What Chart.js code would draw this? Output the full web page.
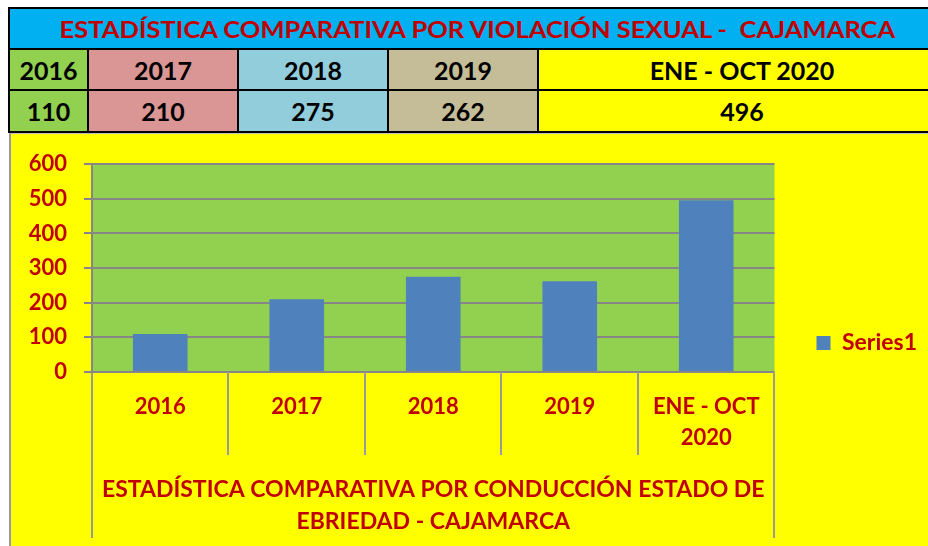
<!DOCTYPE html>
<html><head><meta charset="utf-8">
<script src="https://cdn.jsdelivr.net/npm/chart.js@4/dist/chart.umd.min.js"></script>
<style>
html,body{margin:0;padding:0;width:928px;height:546px;overflow:hidden;background:#fff;font-family:Lato,sans-serif;}
#tbl{position:absolute;left:8px;top:7px;background:#000;padding:2px;display:grid;grid-template-columns:77px 148px 148px 148px 406px;grid-template-rows:39px 39px 40px;gap:2px;}
#tbl div{display:flex;align-items:center;justify-content:center;font-weight:bold;font-size:25px;color:#000;white-space:pre;}
#tbl .title{grid-column:1 / -1;background:#00B0F0;color:#C00000;font-size:23px;}
#tbl .title span{display:inline-block;transform:scaleX(1.11);}
#box{position:absolute;left:9px;top:133px;width:919px;height:413px;background:#FFFF00;border-left:2px solid #9a9a9a;border-top:1px solid #c0c0c0;box-sizing:border-box;}
#c{position:absolute;left:0;top:0;}
</style></head>
<body>
<div id="tbl"></div>
<div id="box"><canvas id="c" width="917" height="412"></canvas></div>
<script>
const chartTitle = 'ESTADÍSTICA COMPARATIVA POR VIOLACIÓN SEXUAL -  CAJAMARCA';
const tableYears = ['2016', '2017', '2018', '2019', 'ENE - OCT 2020'];
const tableValues = ['110', '210', '275', '262', '496'];
const tableColors = ['#92D050', '#DA9694', '#92CDDC', '#C4BD97', '#FFFF00'];
const categories = ['2016', '2017', '2018', '2019', ['ENE - OCT', '2020']];
const values = [110, 210, 275, 262, 496];
const seriesName = 'Series1';
const axisTitle = [['ESTADÍSTICA COMPARATIVA POR CONDUCCIÓN ESTADO DE', 'EBRIEDAD - CAJAMARCA']];
const yMin = 0, yMax = 600, yStep = 100;

// table
const tbl = document.getElementById('tbl');
const t = document.createElement('div'); t.className = 'title';
const ts = document.createElement('span'); ts.textContent = chartTitle; t.appendChild(ts); tbl.appendChild(t);
[tableYears, tableValues].forEach(row => row.forEach((txt, i) => {
  const d = document.createElement('div'); d.textContent = txt; d.style.background = tableColors[i]; tbl.appendChild(d);
}));

const RED = '#C00000';
const GRID = '#868686';
const plotBg = {
  id: 'plotBg',
  beforeDraw(chart) {
    const {ctx, chartArea: a} = chart;
    ctx.save(); ctx.fillStyle = '#92D050';
    ctx.fillRect(a.left, a.top, a.right - a.left, a.bottom - a.top);
    ctx.restore();
  }
};

Chart.defaults.font.family = 'Lato, sans-serif';
new Chart(document.getElementById('c'), {
  type: 'bar',
  data: {
    labels: categories,
    datasets: [{label: seriesName, data: values, backgroundColor: '#4F81BD', borderWidth: 0,
      barPercentage: 0.4, categoryPercentage: 1.0}]
  },
  options: {
    responsive: false, animation: false, devicePixelRatio: 1,
    layout: {padding: {left: 0, top: 14, right: 1, bottom: 8}},
    plugins: {
      tooltip: {enabled: false},
      title: {display: true, text: '', fullSize: false, padding: {top: 16, bottom: 0}, font: {size: 1, lineHeight: 0}},
      legend: {position: 'right', align: 'center',
        labels: {boxWidth: 14, boxHeight: 14, padding: 42, color: RED, font: {size: 23, weight: 'bold'}}}
    },
    scales: {
      y: {min: yMin, max: yMax,
        ticks: {stepSize: yStep, color: RED, padding: 17, font: {size: 22, weight: 'bold'}},
        grid: {color: GRID, lineWidth: 2, tickLength: 8, drawTicks: true},
        border: {display: true, color: GRID, width: 2},
        afterFit(s) { s.width = 81; }
      },
      x: {offset: true, weight: 0,
        ticks: {autoSkip: false, maxRotation: 0, minRotation: 0, color: RED, padding: -63.5,
          font: {size: 22, weight: 'bold', lineHeight: '31px'}},
        grid: {offset: true, drawOnChartArea: false, drawTicks: true, tickLength: 83, color: '#9a9a9a', lineWidth: 2},
        border: {display: false},
        afterFit(s) { s.height = 83; }
      },
      x2: {type: 'category', position: 'bottom', labels: axisTitle, offset: true, weight: 1,
        ticks: {autoSkip: false, maxRotation: 0, minRotation: 0, color: RED, padding: -64,
          font: {size: 23, weight: 'bold', lineHeight: '32px'}},
        grid: {offset: true, drawOnChartArea: false, drawTicks: true, tickLength: 83, color: '#9a9a9a', lineWidth: 2},
        border: {display: false},
        afterFit(s) { s.height = 83; }
      }
    }
  },
  plugins: [plotBg]
});
</script>
</body></html>
